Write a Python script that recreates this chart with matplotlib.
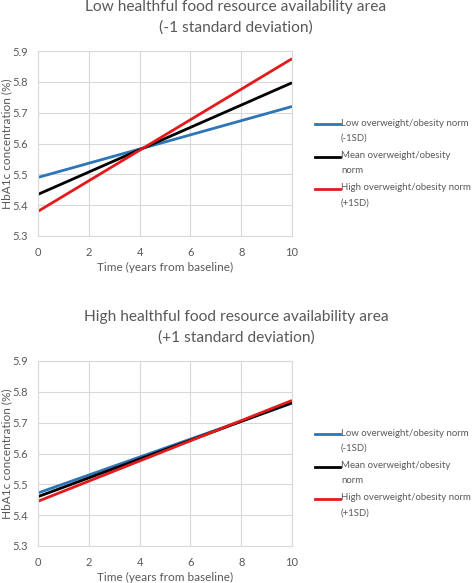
import matplotlib.pyplot as plt
from matplotlib.lines import Line2D

plt.rcParams['font.family'] = ['Lato', 'DejaVu Sans']

# years from baseline
years = [0, 10]

# low healthful food availability (-1SD)
low_area_low_norm = [5.49, 5.72]
low_area_mean_norm = [5.435, 5.797]
low_area_high_norm = [5.38, 5.875]

# high healthful food availability (+1SD)
high_area_low_norm = [5.472, 5.763]
high_area_mean_norm = [5.46, 5.765]
high_area_high_norm = [5.445, 5.772]

labels = ['Low overweight/obesity norm\n(-1SD)',
          'Mean overweight/obesity\nnorm',
          'High overweight/obesity norm\n(+1SD)']
colors = ['#2e75b6', '#000000', '#e31a1c']
titles = ['Low healthful food resource availability area\n(-1 standard deviation)',
          'High healthful food resource availability area\n(+1 standard deviation)']

W, H = 473, 583
grey = '#595959'


def fy(px):
    """pixel row from top -> figure fraction"""
    return 1 - px / H


def draw_panel(fig, top_px, series, title):
    """top_px - pixel row of the 5.9 gridline"""
    ax = fig.add_axes([38 / W, fy(top_px + 185), 254 / W, 185 / H])
    for y, c in zip(series, colors):
        ax.plot(years, y, color=c, lw=2, solid_capstyle='butt')
    ax.set_xlim(0, 10)
    ax.set_ylim(5.3, 5.9)
    ax.set_xticks(range(0, 11, 2))
    ax.set_yticks([5.3, 5.4, 5.5, 5.6, 5.7, 5.8, 5.9])
    ax.set_yticklabels(['5.3', '5.4', '5.5', '5.6', '5.7', '5.8', '5.9'])
    ax.grid(color='#d9d9d9', lw=0.8)
    ax.set_axisbelow(True)
    for s in ax.spines.values():
        s.set_color('#d9d9d9')
    ax.tick_params(length=0, colors=grey, labelsize=8)
    ax.tick_params(axis='x', pad=8)
    ax.tick_params(axis='y', pad=7)
    ax.set_xlabel('Time (years from baseline)', color=grey, fontsize=8.5)
    ax.xaxis.set_label_coords(0.5, -31 / 185)
    ax.set_ylabel('HbA1c concentration (%)', color=grey, fontsize=8.5)
    ax.yaxis.set_label_coords(-31 / 254, 0.5)
    ax.yaxis.label.set_va('center')
    ax.xaxis.label.set_va('center')
    fig.text(236 / W, fy(top_px - 34), title, ha='center', va='center',
             fontsize=11.2, color=grey, linespacing=1.55)
    # legend, line aligned with first text row as in the original
    for i, (lab, c) in enumerate(zip(labels, colors)):
        yy = top_px + 73 + i * 32.5
        fig.add_artist(Line2D([315 / W, 340 / W], [fy(yy), fy(yy)], color=c, lw=2))
        fig.text(341 / W, fy(yy - 5.5), lab, ha='left', va='top', fontsize=6.9,
                 color=grey, linespacing=1.85)
    return ax


fig = plt.figure(figsize=(W / 100, H / 100), dpi=100)
draw_panel(fig, 51, [low_area_low_norm, low_area_mean_norm, low_area_high_norm], titles[0])
draw_panel(fig, 361, [high_area_low_norm, high_area_mean_norm, high_area_high_norm], titles[1])
fig.savefig('out.png', dpi=100)
